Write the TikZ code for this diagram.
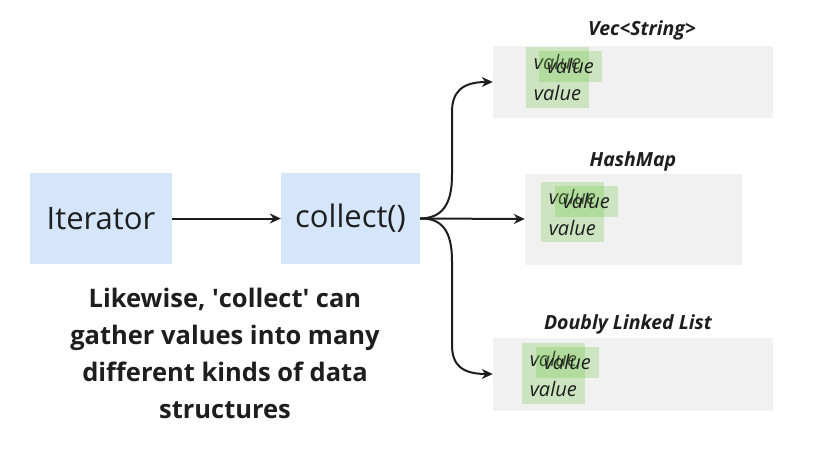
\documentclass[tikz,border=0pt]{standalone}
\usepackage{fontspec}
\setmainfont{Open Sans}
\usetikzlibrary{arrows.meta}
\definecolor{boxblue}{RGB}{214,230,250}
\definecolor{panelgray}{RGB}{241,241,241}
\definecolor{valgreen}{RGB}{120,200,80}
\definecolor{ink}{RGB}{30,30,30}
\begin{document}
\begin{tikzpicture}[x=1pt,y=-1pt,
  every node/.style={text=ink},
  bluebox/.style={fill=boxblue, draw=none, minimum height=91pt, inner sep=0pt, font=\fontsize{31}{37}\selectfont},
  panel/.style={fill=panelgray, draw=none, inner sep=0pt},
  ptitle/.style={font=\fontsize{19.5}{23}\selectfont\bfseries\itshape, inner sep=0pt},
  valbox/.style={fill=valgreen, fill opacity=0.3, text opacity=1, draw=none, minimum width=63pt, minimum height=31pt, inner sep=0pt, font=\fontsize{20}{23}\selectfont\itshape},
  conn/.style={draw=ink, line width=2pt, -{Stealth[length=11pt,width=10pt]}}]
\useasboundingbox (0,0) rectangle (817,450);
\fill[white] (0,0) rectangle (817,450);

% main boxes
\node[bluebox, minimum width=142pt] (iter) at (101,218.5) {Iterator};
\node[bluebox, minimum width=139pt] (coll) at (350.5,218.5) {collect()};

% panels
\node[panel, minimum width=280pt, minimum height=72pt] (vec) at (633,82) {};
\node[panel, minimum width=217pt, minimum height=91pt] (hash) at (633.5,219) {};
\node[panel, minimum width=280pt, minimum height=73pt] (dll) at (633,374) {};

% titles
\node[ptitle] (tvec) at (642,30) {Vec<String>};
\node[ptitle] (thash) at (633,161) {HashMap};
\node[ptitle] (tdll) at (628,324) {Doubly Linked List};

% value boxes
\node[valbox] (v1) at (557.5,62) {value};
\node[valbox] (v2) at (570.3,66) {value};
\node[valbox, minimum height=30pt] (v3) at (557.5,93) {value};

\node[valbox] (h1) at (572.3,197) {value};
\node[valbox] (h2) at (586.3,201) {value};
\node[valbox, minimum height=29pt] (h3) at (572.3,227.5) {value};

\node[valbox] (d1) at (553.3,358.5) {value};
\node[valbox] (d2) at (567.3,362.3) {value};
\node[valbox, minimum height=30pt] (d3) at (553.3,389) {value};

% caption
\node[font=\fontsize{25.5}{37}\selectfont\bfseries, align=center, inner sep=0pt] (cap) at (225,353)
  {Likewise, \textquotesingle collect\textquotesingle{} can\\gather values into many\\different kinds of data\\structures};

% connectors
\draw[conn] (iter.east) -- (coll.west);
\draw[conn] (coll.east) -- (hash.west);
\draw[conn] (coll.east) .. controls (442,218) and (452,205) .. (452,175)
  -- (452,112) .. controls (452,92) and (462,82) .. (vec.west);
\draw[conn] (coll.east) .. controls (442,218) and (452,231) .. (452,261)
  -- (452,345) .. controls (452,365) and (462,374) .. (dll.west);
\end{tikzpicture}
\end{document}
